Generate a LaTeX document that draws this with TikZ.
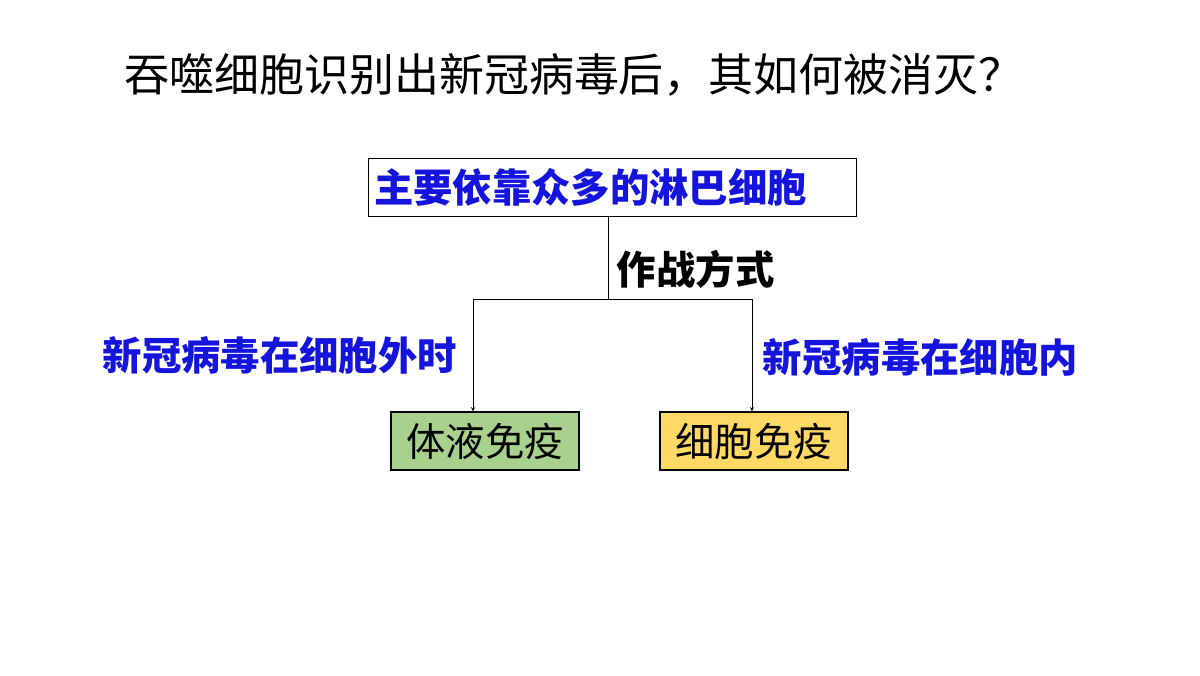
\documentclass[tikz,border=0pt]{standalone}
\usepackage{fontspec}
\newfontfamily\cjk{Noto Sans CJK SC}
\usepackage{tikz}
\usetikzlibrary{positioning}
\definecolor{labelblue}{RGB}{20,20,220}
\tikzset{
  lbl/.style={font=\cjk\bfseries\fontsize{28}{32}\selectfont},
  immbox/.style={draw,line width=0.8pt,minimum width=4.7cm,minimum height=1.45cm,font=\cjk\fontsize{28}{32}\selectfont}
}
\begin{document}
\begin{tikzpicture}[x=1cm,y=1cm]
\useasboundingbox (0,0) rectangle (30,16.875);
\node (title) at (14.35,15.0) {\cjk\fontsize{32}{36}\selectfont 吞噬细胞识别出新冠病毒后，其如何被消灭？};
\node[draw,line width=0.6pt,minimum width=12.2cm,minimum height=1.45cm,lbl,text=labelblue,text width=11.9cm,align=left] (main) at (15.3,12.2) {主要依靠众多的淋巴细胞};
\coordinate (split) at (15.2,9.4);
\coordinate (left) at (11.825,9.4);
\coordinate (right) at (18.8,9.4);
\node[draw,fill={rgb,255:red,169;green,209;blue,142},immbox] (humoral) at (12.125,5.85) {体液免疫};
\node[draw,fill={rgb,255:red,255;green,217;blue,102},immbox] (cellular) at (18.85,5.85) {细胞免疫};
\draw (main.south -| split) -- (split);
\draw (left) -- (right);
\draw[-stealth] (left) -- (left |- humoral.north);
\draw[-stealth] (right) -- (right |- cellular.north);
\node[lbl,anchor=west] (mode) at (15.3,10.15) {作战方式};
\node[lbl,text=labelblue,anchor=east] (outside) at (11.55,8.0) {新冠病毒在细胞外时};
\node[lbl,text=labelblue,anchor=west] (inside) at (18.95,7.95) {新冠病毒在细胞内};
\end{tikzpicture}
\end{document}
